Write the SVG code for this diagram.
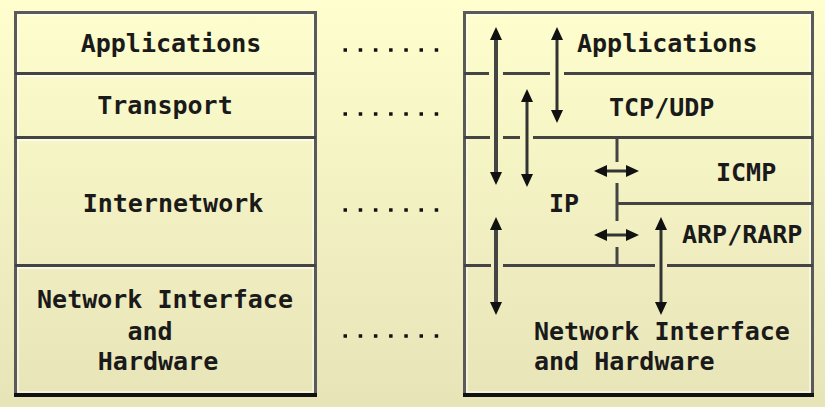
<svg xmlns="http://www.w3.org/2000/svg" width="825" height="407" viewBox="0 0 825 407">
<defs>
<linearGradient id="bg" x1="0" y1="0" x2="0" y2="1">
<stop offset="0" stop-color="#fefece"/>
<stop offset="1" stop-color="#e7e4b7"/>
</linearGradient>
<marker id="ah" viewBox="0 0 13 12" markerWidth="13" markerHeight="12" refX="5" refY="6" orient="auto-start-reverse" markerUnits="userSpaceOnUse">
<path d="M0,0 L13,6 L0,12 z" fill="#111"/>
</marker>
<style>
.box{fill:none;stroke:#5a5a5a;stroke-width:3}
.hi{fill:none;stroke:#ffffff;stroke-width:1.2;opacity:0.8}
.sep{stroke:#444;stroke-width:3;fill:none}
.seph{stroke:#ffffff;stroke-width:1.5;opacity:0.8}
.bot{stroke:#111;stroke-width:4}
.t{font-family:"DejaVu Sans Mono","Liberation Mono",monospace;font-weight:bold;font-size:25px;fill:#1a1a1a}
.m{text-anchor:middle}
.dots{stroke:#111;stroke-width:3.5;stroke-dasharray:3.5 11.7}
.arr{stroke:#333;stroke-width:3;fill:none;marker-start:url(#ah);marker-end:url(#ah)}
.wide{stroke-width:4;stroke:#444}
</style>
</defs>
<rect width="825" height="407" fill="url(#bg)"/>

<g id="left-stack">
<rect class="hi" x="18" y="15" width="295" height="377"/>
<rect class="box" x="15.5" y="12.5" width="300" height="382"/>
<line class="sep" x1="15" y1="73.5" x2="316" y2="73.5"/>
<line class="seph" x1="17" y1="76" x2="314" y2="76"/>
<line class="sep" x1="15" y1="137.5" x2="316" y2="137.5"/>
<line class="seph" x1="17" y1="140" x2="314" y2="140"/>
<line class="sep" x1="15" y1="265.5" x2="316" y2="265.5"/>
<line class="seph" x1="17" y1="268" x2="314" y2="268"/>
<line class="bot" x1="14" y1="395" x2="317" y2="395"/>
</g>
<g id="left-applications"><text class="t m" x="171" y="52">Applications</text></g>
<g id="left-transport"><text class="t m" x="165" y="114">Transport</text></g>
<g id="left-internetwork"><text class="t m" x="173" y="212">Internetwork</text></g>
<g id="left-network">
<text class="t m" x="165" y="308">Network Interface</text>
<text class="t m" x="150" y="340">and</text>
<text class="t m" x="158" y="370">Hardware</text>
</g>

<g id="dots">
<line class="dots" x1="343.5" y1="50" x2="440" y2="50"/>
<line class="dots" x1="343.5" y1="114" x2="440" y2="114"/>
<line class="dots" x1="343.5" y1="210" x2="440" y2="210"/>
<line class="dots" x1="343.5" y1="336" x2="440" y2="336"/>
</g>

<g id="right-stack">
<rect class="hi" x="467" y="15" width="343" height="377"/>
<rect class="box" x="464.5" y="12.5" width="348" height="382"/>
<path class="sep" d="M464,73.5 H489 M503,73.5 H550 M564,73.5 H813"/>
<path class="sep" d="M464,137.5 H490 M503,137.5 H520 M533,137.5 H813"/>
<path class="sep" d="M464,265.5 H491 M503,265.5 H655 M667,265.5 H813"/>
<path class="sep" d="M617,138 V162 M617,183 V221 M617,247 V266 M617,203.5 H813"/>
<line class="bot" x1="463" y1="395" x2="814" y2="395"/>
</g>
<g id="right-applications"><text class="t" x="577" y="52">Applications</text></g>
<g id="right-tcpudp"><text class="t" x="609" y="116">TCP/UDP</text></g>
<g id="right-ip"><text class="t" x="549" y="212">IP</text></g>
<g id="right-icmp"><text class="t" x="716" y="181">ICMP</text></g>
<g id="right-arp"><text class="t" x="682" y="243">ARP/RARP</text></g>
<g id="right-network">
<text class="t" x="534" y="340">Network Interface</text>
<text class="t" x="534" y="370">and Hardware</text>
</g>

<g id="connectors">
<line class="arr wide" x1="496" y1="35" x2="496" y2="177"/>
<line class="arr" x1="557" y1="35" x2="557" y2="115"/>
<line class="arr" x1="527" y1="97" x2="527" y2="179"/>
<line class="arr wide" x1="496" y1="225" x2="496" y2="307"/>
<line class="arr" x1="661" y1="225" x2="661" y2="307"/>
<line class="arr" x1="602" y1="171" x2="631" y2="171"/>
<line class="arr" x1="602" y1="235" x2="631" y2="235"/>
</g>
</svg>
